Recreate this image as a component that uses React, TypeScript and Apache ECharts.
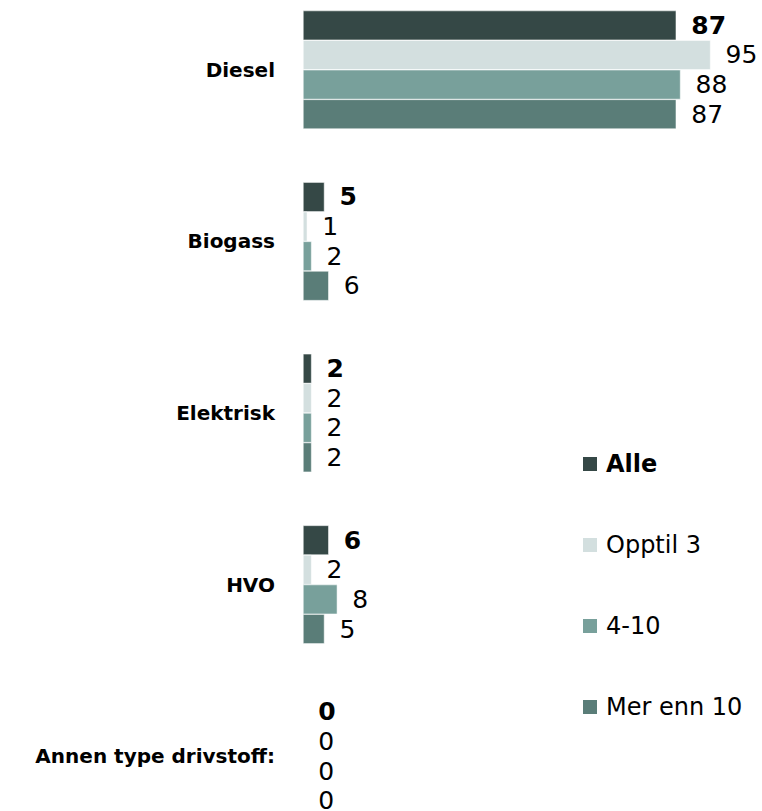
import React, { useEffect, useRef } from "react";
import * as echarts from "echarts";

const categories = ["Diesel", "Biogass", "Elektrisk", "HVO", "Annen type drivstoff:"];
const seriesNames = ["Alle", "Opptil 3", "4-10", "Mer enn 10"];
const alle = [87, 5, 2, 6, 0];
const opptil3 = [95, 1, 2, 2, 0];
const fireTilTi = [88, 2, 2, 8, 0];
const merEnn10 = [87, 6, 2, 5, 0];
const colors = ["#354846", "#d3dfdf", "#78a09b", "#5a7d78"];

const FONT = "DejaVu Sans";

export default function App() {
  const ref = useRef<HTMLDivElement>(null);
  useEffect(() => {
    if (!ref.current) return;
    const chart = echarts.init(ref.current, undefined, { renderer: "svg" });
    const data = [alle, opptil3, fireTilTi, merEnn10];
    chart.setOption({
      animation: false,
      grid: { left: 303, right: 30, top: 0, bottom: 0, containLabel: false },
      legend: {
        orient: "vertical",
        left: 576,
        top: 463,
        itemWidth: 16,
        itemHeight: 16,
        itemGap: 57,
        icon: "rect",
        data: seriesNames,
        formatter: (name: string) => (name === "Alle" ? `{b|${name}}` : `{n|${name}}`),
        textStyle: {
          fontFamily: FONT,
          rich: {
            b: { fontFamily: FONT, fontSize: 24, fontWeight: "bold", color: "#000", padding: [0, 0, 0, 3] },
            n: { fontFamily: FONT, fontSize: 24, color: "#000", padding: [0, 0, 0, 3] },
          },
        },
      },
      xAxis: {
        type: "value",
        min: 0,
        max: 100,
        show: false,
      },
      yAxis: {
        type: "category",
        data: categories,
        inverse: true,
        axisLine: { show: false },
        axisTick: { show: false },
        axisLabel: {
          margin: 28,
          fontFamily: FONT,
          fontSize: 20,
          fontWeight: "bold",
          color: "#000",
        },
      },
      series: seriesNames.map((name, i) => ({
        name,
        type: "bar",
        data: data[i],
        barGap: "0%",
        barCategoryGap: "31%",
        itemStyle: { color: colors[i], borderColor: "#ffffff", borderWidth: 0.5 },
        label: {
          show: true,
          position: "right",
          distance: 15,
          fontFamily: FONT,
          fontSize: 25,
          fontWeight: i === 0 ? "bold" : "normal",
          color: "#000",
        },
      })),
    });
    return () => chart.dispose();
  }, []);
  return (
    <div
      ref={ref}
      style={{ position: "absolute", left: 0, top: -16, width: 762, height: 858 }}
    />
  );
}
